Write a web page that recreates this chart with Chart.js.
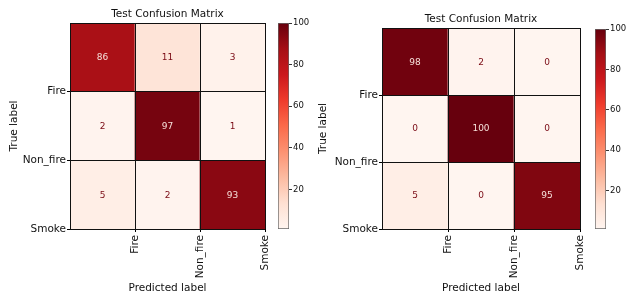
<!DOCTYPE html>
<html>
<head>
<meta charset="utf-8">
<script src="https://cdn.jsdelivr.net/npm/chart.js@4.4.1/dist/chart.umd.min.js"></script>
<style>
  body { margin: 0; background: #fff; }
  #wrap { position: relative; width: 629px; height: 295px; overflow: hidden; }
  canvas { position: absolute; top: 0; }
</style>
</head>
<body>
<div id="wrap">
  <canvas id="cmLeft" width="275" height="295" style="left:0"></canvas>
  <canvas id="cbLeft" width="45" height="295" style="left:270px"></canvas>
  <canvas id="cmRight" width="280" height="295" style="left:310px"></canvas>
  <canvas id="cbRight" width="42" height="295" style="left:587px"></canvas>
</div>
<script>
// data
const classNames = ['Fire', 'Non_fire', 'Smoke'];
const leftMatrix = [
    [86, 11, 3],
    [2, 97, 1],
    [5, 2, 93]
];
const rightMatrix = [
    [98, 2, 0],
    [0, 100, 0],
    [5, 0, 95]
];
const leftRange = [1, 100];
const rightRange = [1, 100];
const colorbarTicks = [20, 40, 60, 80, 100];

Chart.defaults.font.family = "'DejaVu Sans', sans-serif";
Chart.defaults.color = '#111';
Chart.defaults.animation = false;

// matplotlib "Reds"
const reds = ['#fff5f0', '#fee0d2', '#fcbba1', '#fc9272', '#fb6a4a', '#ef3b2c', '#cb181d', '#a50f15', '#67000d'];

const hexToRgb = h => {
    const n = parseInt(h.slice(1), 16);
    return [n >> 16, (n >> 8) & 255, n & 255];
};

function redsAt(t) {
    t = Math.min(1, Math.max(0, t));
    const p = t * (reds.length - 1);
    const i = Math.min(Math.floor(p), reds.length - 2);
    const f = p - i;
    const a = hexToRgb(reds[i]), b = hexToRgb(reds[i + 1]);
    return `rgb(${a.map((c, k) => Math.round(c + (b[k] - c) * f)).join(',')})`;
}

// numbers in the middle of each cell
const cellText = {
    id: 'cellText',
    afterDatasetsDraw(chart, args, opts) {
        const { ctx } = chart;
        const m = opts.matrix;
        const flat = m.flat();
        const thresh = (Math.max(...flat) + Math.min(...flat)) / 2;
        ctx.save();
        ctx.font = "9px 'DejaVu Sans'";
        ctx.textAlign = 'center';
        ctx.textBaseline = 'middle';
        chart.data.datasets.forEach((ds, r) => {
            chart.getDatasetMeta(r).data.forEach((bar, c) => {
                const v = m[r][c];
                const p = bar.getCenterPoint();
                ctx.fillStyle = v > thresh ? '#f6e0da' : '#7a0a14';
                ctx.fillText(String(v), p.x, p.y + 0.5);
            });
        });
        ctx.restore();
    }
};

const hideZeroTick = c => (c.tick && c.tick.value === 0 ? 'rgba(0,0,0,0)' : '#000');

function drawMatrix(id, matrix, range, lay) {
    const [vmin, vmax] = range;
    new Chart(document.getElementById(id), {
        type: 'bar',
        data: {
            labels: classNames,
            datasets: matrix.map((row, r) => ({
                data: row.map(() => [r, r + 1]),
                backgroundColor: row.map(v => redsAt((v - vmin) / (vmax - vmin))),
                borderWidth: 0,
                barPercentage: 1,
                categoryPercentage: 1,
                grouped: false
            }))
        },
        options: {
            responsive: false,
            layout: { padding: { left: 0, top: 0, bottom: 0, right: lay.padRight } },
            plugins: {
                legend: { display: false },
                tooltip: { enabled: false },
                title: {
                    display: true,
                    text: 'Test Confusion Matrix',
                    fullSize: false,
                    color: '#111',
                    font: { size: 10.5, weight: 'normal' },
                    padding: { top: lay.titleTop, bottom: 2.7 }
                },
                cellText: { matrix }
            },
            scales: {
                x: { display: false },
                xt: {
                    type: 'linear', position: 'bottom', min: 0, max: 3, offset: false,
                    ticks: {
                        stepSize: 1, autoSkip: false, minRotation: 90, maxRotation: 90, padding: 3,
                        color: '#111', font: { size: 10.5 },
                        callback: v => classNames[v - 1] ?? ''
                    },
                    grid: { z: 1, offset: false, color: '#111', lineWidth: 1, tickLength: 3, tickColor: hideZeroTick },
                    border: { display: false },
                    title: { display: true, text: 'Predicted label', color: '#111', font: { size: 10.5 }, padding: { top: 0, bottom: 0.5 } },
                    afterFit: s => { s.height = lay.bottomHeight; s.paddingLeft = 0; s.paddingRight = 0; }
                },
                y: {
                    type: 'linear', min: 0, max: 3, reverse: true,
                    ticks: {
                        stepSize: 1, padding: 1, color: '#111', font: { size: 10.5 },
                        callback: v => classNames[v - 1] ?? ''
                    },
                    grid: { z: 1, color: '#111', lineWidth: 1, tickLength: 3, tickColor: hideZeroTick },
                    border: { display: false },
                    title: { display: true, text: 'True label', color: '#111', font: { size: 10.5 }, padding: { top: lay.yTitlePad } },
                    afterFit: s => { s.width = lay.axisWidth; s.paddingTop = 0; s.paddingBottom = 0; }
                }
            }
        },
        plugins: [cellText]
    });
}

function drawColorbar(id, range, lay) {
    const [vmin, vmax] = range;
    new Chart(document.getElementById(id), {
        type: 'bar',
        data: {
            labels: [''],
            datasets: [{
                data: [[vmin, vmax]],
                backgroundColor: c => {
                    const a = c.chart.chartArea;
                    if (!a) return reds[0];
                    const g = c.chart.ctx.createLinearGradient(0, a.bottom, 0, a.top);
                    reds.forEach((col, i) => g.addColorStop(i / (reds.length - 1), col));
                    return g;
                },
                borderColor: '#666',
                borderWidth: 1,
                borderSkipped: false,
                barPercentage: 1,
                categoryPercentage: 1
            }]
        },
        options: {
            responsive: false,
            layout: { padding: { left: lay.padLeft, top: lay.top, bottom: lay.bottom, right: 0 } },
            plugins: { legend: { display: false }, tooltip: { enabled: false } },
            scales: {
                x: { display: false },
                y: {
                    position: 'right', min: vmin, max: vmax,
                    afterBuildTicks: s => { s.ticks = colorbarTicks.map(v => ({ value: v })); },
                    ticks: { padding: 1, color: '#111', font: { size: 8.5 } },
                    grid: { drawOnChartArea: false, tickLength: 3, color: '#333' },
                    border: { display: false },
                    afterFit: s => { s.width = lay.axisWidth; s.paddingTop = 0; s.paddingBottom = 0; }
                }
            }
        }
    });
}

drawMatrix('cmLeft', leftMatrix, leftRange, { axisWidth: 70, padRight: 10, titleTop: 7.7, bottomHeight: 66, yTitlePad: 7.5 });
drawColorbar('cbLeft', leftRange, { padLeft: 8, top: 23, bottom: 66, axisWidth: 26 });
drawMatrix('cmRight', rightMatrix, rightRange, { axisWidth: 72, padRight: 10, titleTop: 12.7, bottomHeight: 66, yTitlePad: 7.2 });
drawColorbar('cbRight', rightRange, { padLeft: 8, top: 29, bottom: 66, axisWidth: 23 });
</script>
</body>
</html>
